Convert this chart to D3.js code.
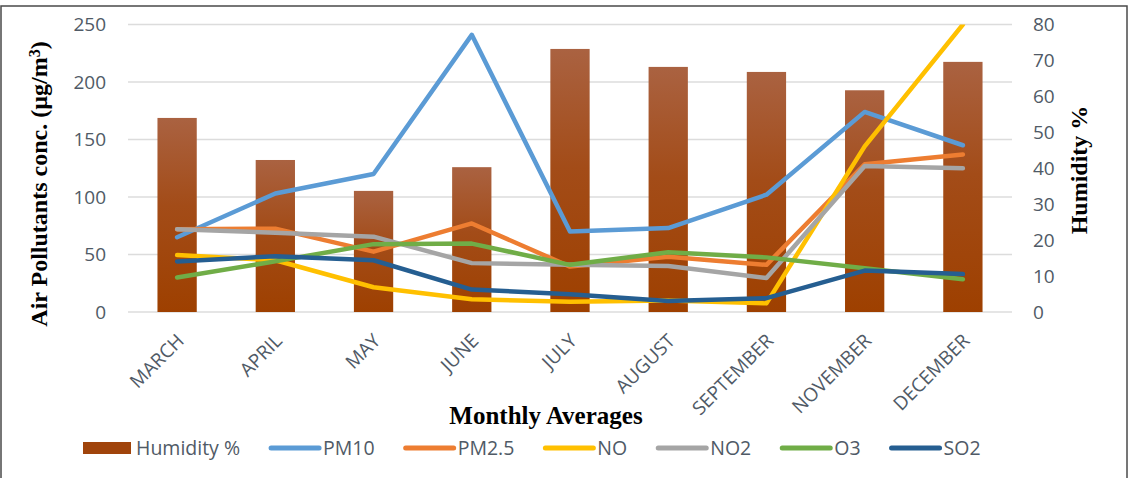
<!DOCTYPE html>
<html>
<head>
<meta charset="utf-8">
<script src="https://cdn.jsdelivr.net/npm/d3@7"></script>
<style>
  html, body { margin: 0; padding: 0; background: #fff; }
  svg { display: block; }
  .tick text { font-family: "Open Sans", "Noto Sans", sans-serif; fill: #505A66; }
</style>
</head>
<body>
<svg id="chart" width="1129" height="478"></svg>
<script>
// Monthly averages of air pollutants (µg/m³) and relative humidity (%)
const months = ["MARCH", "APRIL", "MAY", "JUNE", "JULY", "AUGUST", "SEPTEMBER", "NOVEMBER", "DECEMBER"];
const humidity = [54, 42.3, 33.7, 40.3, 73.2, 68.2, 66.8, 61.7, 69.6];
const pm10 = [65, 103, 120, 241, 70, 73, 102, 174, 145];
const pm25 = [72, 72.5, 52.5, 77, 39.5, 48, 41, 128.5, 137];
const no = [49.5, 45, 21.5, 11, 9, 10, 7.5, 144, 250];
const no2 = [72, 69, 65.5, 42.5, 41, 40, 29.5, 127, 125];
const o3 = [30, 44, 59, 59.5, 41, 52, 47.5, 38, 28.5];
const so2 = [44, 48.5, 45, 19.5, 15.5, 9.5, 12, 36, 33];

const leftTicks = [0, 50, 100, 150, 200, 250];
const rightTicks = [0, 10, 20, 30, 40, 50, 60, 70, 80];

const seriesNames = ["PM10", "PM2.5", "NO", "NO2", "O3", "SO2"];
const seriesValues = [pm10, pm25, no, no2, o3, so2];
const seriesColors = ["#5B9BD5", "#ED7D31", "#FFC000", "#A5A5A5", "#70AD47", "#255E91"];

const svg = d3.select("#chart");
const plot = { left: 128, right: 1012, top: 24.5, bottom: 312 };

const x = d3.scaleBand().domain(months).range([plot.left, plot.right])
  .paddingInner(0.6).paddingOuter(0.3);
const yL = d3.scaleLinear().domain([0, 250]).range([plot.bottom, plot.top]);
const yR = d3.scaleLinear().domain([0, 80]).range([plot.bottom, plot.top]);
const cx = m => x(m) + x.bandwidth() / 2;

// outer frame
svg.append("rect").attr("x", 1).attr("y", 6).attr("width", 1126).attr("height", 520)
  .attr("fill", "none").attr("stroke", "#4a4a4a").attr("stroke-width", 1.5);

const defs = svg.append("defs");
const grad = defs.append("linearGradient").attr("id", "humGrad")
  .attr("x1", 0).attr("y1", 0).attr("x2", 0).attr("y2", 1);
grad.append("stop").attr("offset", "0%").attr("stop-color", "#AA6241");
grad.append("stop").attr("offset", "45%").attr("stop-color", "#A34C18");
grad.append("stop").attr("offset", "100%").attr("stop-color", "#9E4000");

defs.append("clipPath").attr("id", "plotClip").append("rect")
  .attr("x", plot.left - 10).attr("y", plot.top)
  .attr("width", plot.right - plot.left + 20).attr("height", plot.bottom - plot.top + 10);

// gridlines
svg.append("g").selectAll("line").data(leftTicks).join("line")
  .attr("x1", plot.left).attr("x2", plot.right)
  .attr("y1", d => yL(d)).attr("y2", d => yL(d))
  .attr("stroke", "#DCDCDC").attr("stroke-width", 1.4);

// humidity bars (right axis)
svg.append("g").selectAll("rect").data(months).join("rect")
  .attr("x", d => x(d)).attr("width", x.bandwidth())
  .attr("y", (d, i) => yR(humidity[i]))
  .attr("height", (d, i) => yR(0) - yR(humidity[i]))
  .attr("fill", "url(#humGrad)");

// pollutant lines (left axis)
const line = d3.line().x((d, i) => cx(months[i])).y(d => yL(d));
svg.append("g").attr("clip-path", "url(#plotClip)")
  .selectAll("path").data(seriesValues).join("path")
  .attr("d", d => line(d))
  .attr("fill", "none")
  .attr("stroke", (d, i) => seriesColors[i])
  .attr("stroke-width", 4.5)
  .attr("stroke-linejoin", "round")
  .attr("stroke-linecap", "round");

// axes
const axL = svg.append("g").attr("transform", `translate(${plot.left},0)`)
  .call(d3.axisLeft(yL).tickValues(leftTicks).tickSize(0).tickPadding(22));
axL.select(".domain").remove();
axL.selectAll("text").style("font-size", "19px");

const axR = svg.append("g").attr("transform", `translate(${plot.right},0)`)
  .call(d3.axisRight(yR).tickValues(rightTicks).tickSize(0).tickPadding(21));
axR.select(".domain").remove();
axR.selectAll("text").style("font-size", "19px");

const axB = svg.append("g").attr("transform", `translate(0,${plot.bottom})`)
  .call(d3.axisBottom(x).tickSize(0));
axB.select(".domain").remove();
axB.selectAll("text")
  .style("font-size", "19px")
  .attr("x", 0).attr("y", 0).attr("dy", 0)
  .attr("text-anchor", "end")
  .attr("transform", "translate(8,30) rotate(-45)");

// axis titles
const titleFont = '"Liberation Serif", "Times New Roman", serif';
const lt = svg.append("text")
  .attr("transform", "translate(47,184) rotate(-90)")
  .attr("text-anchor", "middle")
  .style("font-family", titleFont).style("font-weight", "bold").style("font-size", "24px")
  .attr("fill", "#000");
lt.append("tspan").text("Air Pollutants conc. (µg/m");
lt.append("tspan").text("3").attr("dy", "-0.45em").style("font-size", "16px");
lt.append("tspan").text(")").attr("dy", "0.3em");

svg.append("text")
  .attr("transform", "translate(1087,170) rotate(-90)")
  .attr("text-anchor", "middle")
  .style("font-family", titleFont).style("font-weight", "bold").style("font-size", "24px")
  .text("Humidity %");

svg.append("text")
  .attr("x", 546).attr("y", 424)
  .attr("text-anchor", "middle")
  .style("font-family", titleFont).style("font-weight", "bold").style("font-size", "25px")
  .text("Monthly Averages");

// legend
const legendY = 448;
const lg = svg.append("g").style("font-family", '"Open Sans", "Noto Sans", sans-serif')
  .style("font-size", "19.5px");
let lx = 83;
const bar = lg.append("g");
bar.append("rect").attr("x", lx).attr("y", legendY - 6).attr("width", 48).attr("height", 12)
  .attr("fill", "#A0440B");
let t = bar.append("text").attr("x", lx + 53).attr("y", legendY).attr("dy", "0.35em")
  .attr("fill", "#505A66").text("Humidity %");
lx = lx + 53 + t.node().getComputedTextLength() + 29;
seriesNames.forEach((name, i) => {
  const g = lg.append("g");
  g.append("line").attr("x1", lx + 2).attr("x2", lx + 50)
    .attr("y1", legendY).attr("y2", legendY)
    .attr("stroke", seriesColors[i]).attr("stroke-width", 5).attr("stroke-linecap", "round");
  const tt = g.append("text").attr("x", lx + 54).attr("y", legendY).attr("dy", "0.35em")
    .attr("fill", "#505A66").text(name);
  lx = lx + 54 + tt.node().getComputedTextLength() + 29;
});
</script>
</body>
</html>
